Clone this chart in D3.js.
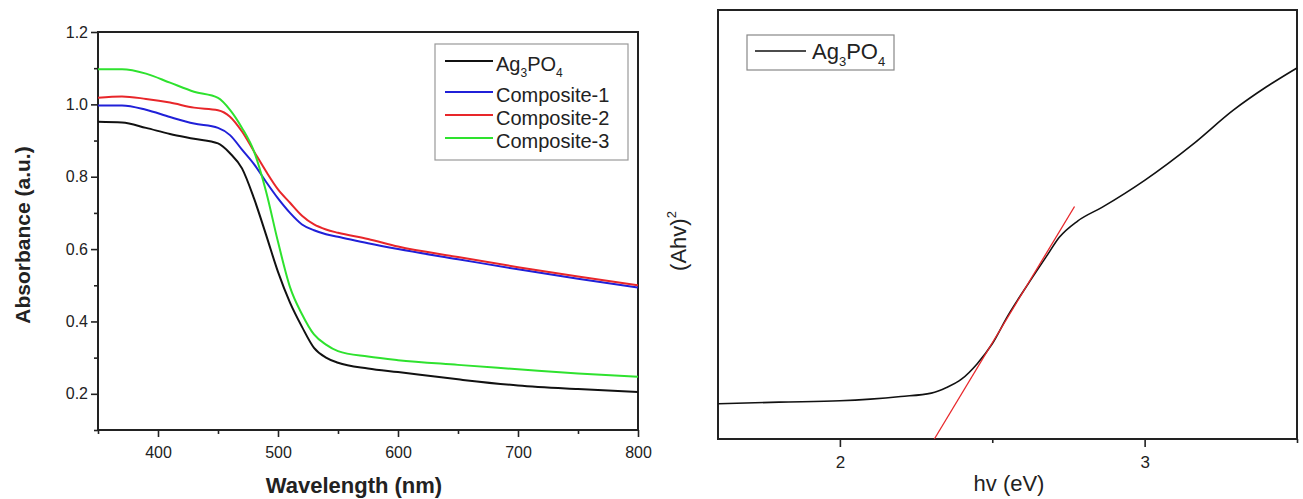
<!DOCTYPE html>
<html>
<head>
<meta charset="utf-8">
<script src="https://cdn.jsdelivr.net/npm/d3@7"></script>
<style>
    body { margin: 0; background: #fff; }
    svg { display: block; font-family: "Liberation Sans", Arial, sans-serif; }
    .tick line { stroke: #222; stroke-width: 1.6; }
    .tick text { fill: #222; }
</style>
</head>
<body>
<div id="chart"></div>
<script>

// left panel: absorbance spectra
const wavelengths = [350, 370, 390, 410, 430, 450, 460, 470, 480, 490, 500, 510, 520, 530, 540, 550, 575, 600, 650, 700, 750, 800];
const ag3po4     = [0.952, 0.950, 0.935, 0.918, 0.905, 0.892, 0.865, 0.823, 0.740, 0.640, 0.537, 0.452, 0.385, 0.327, 0.300, 0.286, 0.270, 0.260, 0.240, 0.223, 0.213, 0.205];
const composite1 = [0.997, 0.997, 0.985, 0.965, 0.947, 0.935, 0.915, 0.875, 0.835, 0.786, 0.740, 0.700, 0.668, 0.652, 0.641, 0.634, 0.616, 0.600, 0.572, 0.544, 0.518, 0.494];
const composite2 = [1.018, 1.022, 1.015, 1.005, 0.991, 0.984, 0.966, 0.925, 0.870, 0.815, 0.765, 0.728, 0.692, 0.668, 0.654, 0.645, 0.628, 0.607, 0.578, 0.550, 0.524, 0.500];
const composite3 = [1.097, 1.097, 1.085, 1.060, 1.035, 1.018, 0.985, 0.935, 0.870, 0.760, 0.620, 0.495, 0.420, 0.364, 0.336, 0.318, 0.303, 0.293, 0.280, 0.268, 0.256, 0.247];
const seriesNames = ['Ag3PO4', 'Composite-1', 'Composite-2', 'Composite-3'];
const seriesColors = ['#111111', '#2020d8', '#e8262a', '#2ee22e'];
const wlMajorTicks = [400, 500, 600, 700, 800];
const wlMinorTicks = [350, 450, 550, 650, 750];
const absMajorTicks = [0.2, 0.4, 0.6, 0.8, 1.0, 1.2];
const absMinorTicks = [0.1, 0.3, 0.5, 0.7, 0.9, 1.1];

// right panel: Tauc plot
const photonEnergy = [1.6, 1.8, 2.0, 2.1, 2.2, 2.3, 2.35, 2.4, 2.45, 2.5, 2.55, 2.62, 2.68, 2.72, 2.78, 2.86, 3.0, 3.16, 3.29, 3.4, 3.5];
const ahv2         = [0.082, 0.086, 0.089, 0.093, 0.099, 0.107, 0.120, 0.140, 0.175, 0.222, 0.286, 0.364, 0.428, 0.470, 0.508, 0.540, 0.603, 0.688, 0.766, 0.821, 0.865];
const tangentX = [2.31, 2.77];
const tangentY = [0, 0.542];
const evMajorTicks = [2, 3];
const evMinorTicks = [2.5, 3.5];

const svg = d3.select('#chart').append('svg')
    .attr('width', 1303)
    .attr('height', 499);

/* escreve nomes quimicos com os numeros em subscrito */
function chemText(sel, name, size, subSize) {
    if (name.indexOf('-') >= 0) { sel.text(name); return; }
    let parts = name.match(/[A-Za-z]+|\d+/g);
    parts.forEach((p, k) => {
        if (/^\d+$/.test(p)) {
            sel.append('tspan').attr('font-size', subSize).attr('dy', size * 0.3).text(p);
        } else {
            let t = sel.append('tspan').text(p);
            if (k > 0) t.attr('dy', -size * 0.3);
        }
    });
}

// ---------- left panel ----------
const x = d3.scaleLinear().domain([350, 800]).range([98, 638]);
const y = d3.scaleLinear().domain([0.1, 1.2]).range([430, 32]);

let gx = svg.append('g').attr('transform', 'translate(0,430)')
    .call(d3.axisBottom(x).tickValues(wlMajorTicks).tickSize(7).tickSizeOuter(0).tickPadding(10));
gx.select('.domain').remove();
gx.selectAll('text').attr('font-size', 16).attr('font-family', null);
let gxm = svg.append('g').attr('transform', 'translate(0,430)')
    .call(d3.axisBottom(x).tickValues(wlMinorTicks).tickSize(4).tickFormat(''));
gxm.select('.domain').remove();

let gy = svg.append('g').attr('transform', 'translate(98,0)')
    .call(d3.axisLeft(y).tickValues(absMajorTicks).tickFormat(d3.format('.1f')).tickSize(7).tickSizeOuter(0).tickPadding(3));
gy.select('.domain').remove();
gy.selectAll('text').attr('font-size', 16).attr('font-family', null);
let gym = svg.append('g').attr('transform', 'translate(98,0)')
    .call(d3.axisLeft(y).tickValues(absMinorTicks).tickSize(4).tickFormat(''));
gym.select('.domain').remove();

svg.append('rect')
    .attr('x', x(350)).attr('y', y(1.2))
    .attr('width', x(800) - x(350)).attr('height', y(0.1) - y(1.2))
    .attr('fill', 'none').attr('stroke', '#222').attr('stroke-width', 2);

const absLine = d3.line()
    .x((d, i) => x(wavelengths[i]))
    .y(d => y(d))
    .curve(d3.curveMonotoneX);

[ag3po4, composite1, composite2, composite3].forEach((s, i) => {
    svg.append('path')
        .attr('d', absLine(s))
        .attr('fill', 'none')
        .attr('stroke', seriesColors[i])
        .attr('stroke-width', 2);
});

svg.append('text')
    .attr('transform', 'translate(30,235) rotate(-90)')
    .attr('text-anchor', 'middle')
    .attr('font-size', 21).attr('font-weight', 'bold').attr('fill', '#222')
    .text('Absorbance (a.u.)');
svg.append('text')
    .attr('x', 354).attr('y', 493)
    .attr('text-anchor', 'middle')
    .attr('font-size', 22).attr('font-weight', 'bold').attr('fill', '#222')
    .text('Wavelength (nm)');

// legend
svg.append('rect')
    .attr('x', 435).attr('y', 44).attr('width', 193).attr('height', 116)
    .attr('fill', '#fff').attr('stroke', '#999').attr('stroke-width', 1.2);
seriesNames.forEach((name, i) => {
    let base = i === 0 ? 71 : 102 + (i - 1) * 23;
    svg.append('line')
        .attr('x1', 445).attr('x2', 493)
        .attr('y1', base - 10).attr('y2', base - 10)
        .attr('stroke', seriesColors[i]).attr('stroke-width', 2);
    let t = svg.append('text').attr('x', 496).attr('y', base)
        .attr('font-size', 20).attr('fill', '#222');
    chemText(t, name, 20, 12);
});

// ---------- right panel ----------
const xr = d3.scaleLinear().domain([1.6, 3.5]).range([718, 1297]);
const yr = d3.scaleLinear().domain([0, 1]).range([439, 10]);

let gxr = svg.append('g').attr('transform', 'translate(0,439)')
    .call(d3.axisBottom(xr).tickValues(evMajorTicks).tickFormat(d3.format('d')).tickSize(8).tickSizeOuter(0).tickPadding(9));
gxr.select('.domain').remove();
gxr.selectAll('text').attr('font-size', 17).attr('font-family', null);
let gxrm = svg.append('g').attr('transform', 'translate(0,439)')
    .call(d3.axisBottom(xr).tickValues(evMinorTicks).tickSize(4).tickFormat(''));
gxrm.select('.domain').remove();

svg.append('rect')
    .attr('x', xr(1.6)).attr('y', yr(1))
    .attr('width', xr(3.5) - xr(1.6)).attr('height', yr(0) - yr(1))
    .attr('fill', 'none').attr('stroke', '#222').attr('stroke-width', 2);

const taucLine = d3.line()
    .x((d, i) => xr(photonEnergy[i]))
    .y(d => yr(d))
    .curve(d3.curveMonotoneX);

svg.append('path')
    .attr('d', taucLine(ahv2))
    .attr('fill', 'none').attr('stroke', '#111').attr('stroke-width', 1.6);

svg.append('line')
    .attr('x1', xr(tangentX[0])).attr('y1', yr(tangentY[0]))
    .attr('x2', xr(tangentX[1])).attr('y2', yr(tangentY[1]))
    .attr('stroke', '#e8262a').attr('stroke-width', 1.3);

svg.append('text')
    .attr('x', 1009).attr('y', 491)
    .attr('text-anchor', 'middle')
    .attr('font-size', 22).attr('fill', '#222')
    .text('hv (eV)');

let ylab = svg.append('text')
    .attr('transform', 'translate(686,241) rotate(-90)')
    .attr('text-anchor', 'middle')
    .attr('font-size', 22).attr('fill', '#222');
ylab.append('tspan').text('(Ahv)');
ylab.append('tspan').attr('font-size', 13).attr('dy', -10).text('2');

// legend
svg.append('rect')
    .attr('x', 747).attr('y', 35).attr('width', 147).attr('height', 35)
    .attr('fill', '#fff').attr('stroke', '#888').attr('stroke-width', 1.2);
svg.append('line')
    .attr('x1', 755).attr('x2', 806).attr('y1', 51).attr('y2', 51)
    .attr('stroke', '#111').attr('stroke-width', 1.6);
let rl = svg.append('text').attr('x', 812).attr('y', 59)
    .attr('font-size', 22).attr('fill', '#222');
chemText(rl, 'Ag3PO4', 22, 13);

</script>
</body>
</html>
